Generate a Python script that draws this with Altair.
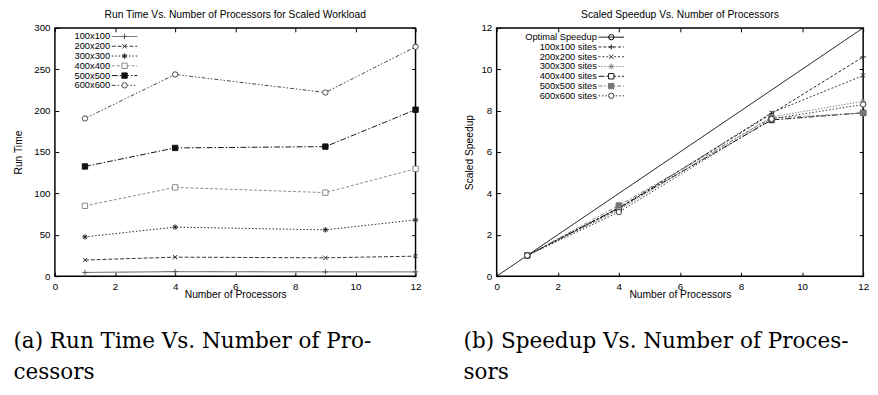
import altair as alt
import pandas as pd

# ---------------- data ----------------
procs = [1, 4, 9, 12]
x_ticks = [0, 2, 4, 6, 8, 10, 12]

rt_names = ["100x100", "200x200", "300x300", "400x400", "500x500", "600x600"]
rt_100 = [4.5, 5.5, 5.2, 5.2]
rt_200 = [19.5, 23.0, 22.2, 24.2]
rt_300 = [47.5, 59.3, 56.0, 68.0]
rt_400 = [85.0, 107.3, 101.0, 129.8]
rt_500 = [132.6, 155.0, 156.6, 201.2]
rt_600 = [190.6, 243.8, 222.0, 277.2]
rt_ticks = [0, 50, 100, 150, 200, 250, 300]

sp_names = ["Optimal Speedup", "100x100 sites", "200x200 sites", "300x300 sites",
            "400x400 sites", "500x500 sites", "600x600 sites"]
opt_x = [0, 12]
opt_y = [0, 12]
sp_100 = [1.0, 3.30, 7.85, 10.60]
sp_200 = [1.0, 3.25, 7.90, 9.70]
sp_300 = [1.0, 3.20, 7.70, 8.45]
sp_400 = [1.0, 3.30, 7.55, 7.90]
sp_500 = [1.0, 3.42, 7.65, 7.88]
sp_600 = [1.0, 3.10, 7.60, 8.30]
sp_ticks = [0, 2, 4, 6, 8, 10, 12]

titles = ["Run Time Vs. Number of Processors for Scaled Workload",
          "Scaled Speedup Vs. Number of Processors"]
captions = [["(a) Run Time Vs. Number of Pro-", "cessors"],
            ["(b) Speedup Vs. Number of Proces-", "sors"]]

# ---------------- styles ----------------
SANS = "Liberation Sans"
SERIF = "DejaVu Serif"
PLUS = "M-1,0H1M0,-1V1"
XMARK = "M-0.8,-0.8L0.8,0.8M-0.8,0.8L0.8,-0.8"
STAR = "M-1,0H1M0,-1V1M-0.75,-0.75L0.75,0.75M-0.75,0.75L0.75,-0.75"
SAMPLE = "M-3.25,0H3.25"
H = 254
NONPOS = ["color", "strokeDash", "shape", "stroke", "fill", "opacity"]


def indep(ch):
    kw = {c: "independent" for c in NONPOS}
    return ch.resolve_scale(**kw).resolve_legend(**kw)


def long_df(names, xs_list, ys_list):
    rows = []
    for n, xs, ys in zip(names, xs_list, ys_list):
        for x, y in zip(xs, ys):
            rows.append({"procs": x, "value": y, "series": n, "key": n + " ",
                         "lab": n + "  "})
    return pd.DataFrame(rows)


def panel(df_lines, df_pts, names, colors, dashes, shapes, fills, ydomain, yticks,
          ytitle, title, width, sym_x, lab_x, leg_y, ytitle_pad):
    keys = [n + " " for n in names]
    labs = [n + "  " for n in names]
    xaxis = alt.Axis(values=x_ticks, title="Number of Processors", titleFont=SANS,
                     titleFontSize=10.5, titleFontWeight="normal", titleColor="black",
                     titlePadding=-2, labelFont=SANS, labelFontSize=10, labelColor="black",
                     labelPadding=6, ticks=False, domain=False, grid=True, gridColor="black",
                     gridWidth=1, gridOpacity=1, gridDash=[4, H - 8, 4, 2000],
                     labelFlush=False, labelOverlap=False)
    yaxis = alt.Axis(values=yticks, title=ytitle, titleFont=SANS, titleFontSize=10.5,
                     titleFontWeight="normal", titleColor="black", titlePadding=ytitle_pad,
                     labelFont=SANS, labelFontSize=10, labelColor="black", labelPadding=5,
                     ticks=False, domain=False, grid=True, gridColor="black", gridWidth=1,
                     gridOpacity=1, gridDash=[4, width - 8, 4, 2000], labelFlush=False,
                     labelOverlap=False)
    rowpad = alt.ExprRef(expr="-1.5")
    sym_common = dict(orient="none", legendX=sym_x, legendY=leg_y, title=None,
                      labelExpr="''", labelFontSize=9.5, rowPadding=rowpad, padding=0,
                      symbolOffset=0, symbolStrokeWidth=1)
    leg_line = alt.Legend(symbolType=SAMPLE, symbolSize=64, **sym_common)
    leg_pt = alt.Legend(symbolSize=30, **sym_common)
    leg_lab = alt.Legend(orient="none", legendX=lab_x, legendY=leg_y, title=None,
                         labelAlign="right", labelFont=SANS, labelFontSize=9.5,
                         labelColor="black", labelExpr="trim(datum.label)", labelLimit=300,
                         symbolSize=0, symbolStrokeWidth=0, symbolOffset=0,
                         rowPadding=rowpad, padding=0)

    xs = alt.Scale(domain=[0, 12], nice=False)
    ys = alt.Scale(domain=ydomain, nice=False)
    lines = alt.Chart(df_lines).mark_line(strokeWidth=1).encode(
        x=alt.X("procs:Q", scale=xs, axis=xaxis),
        y=alt.Y("value:Q", scale=ys, axis=yaxis),
        color=alt.Color("series:N", scale=alt.Scale(domain=names, range=colors), legend=leg_line),
        strokeDash=alt.StrokeDash("series:N", scale=alt.Scale(domain=names, range=dashes),
                                  legend=leg_line),
        opacity=alt.Opacity("lab:N", scale=alt.Scale(domain=labs, range=[1] * len(labs)),
                            legend=leg_lab),
    )
    pts = alt.Chart(df_pts).mark_point(size=30, strokeWidth=1, opacity=1, filled=True).encode(
        x=alt.X("procs:Q", scale=xs, axis=xaxis),
        y=alt.Y("value:Q", scale=ys, axis=yaxis),
        shape=alt.Shape("key:N", scale=alt.Scale(domain=keys, range=shapes), legend=leg_pt),
        stroke=alt.Stroke("key:N", scale=alt.Scale(domain=keys, range=colors), legend=leg_pt),
        fill=alt.Fill("key:N", scale=alt.Scale(domain=keys, range=fills), legend=leg_pt),
    )
    return alt.layer(lines, pts).properties(
        width=width, height=H,
        title=alt.TitleParams(title, font=SANS, fontSize=10.5, fontWeight="normal",
                              color="black", offset=3, anchor="middle", frame="group"),
    )


# left panel
rt_series = [rt_100, rt_200, rt_300, rt_400, rt_500, rt_600]
df_rt = long_df(rt_names, [procs] * 6, rt_series)
left = panel(
    df_rt, df_rt, rt_names,
    colors=["#555555", "#333333", "#222222", "#888888", "#111111", "#444444"],
    dashes=[[1, 0], [4, 2], [1.5, 2], [3, 2], [6, 2, 1.5, 2], [4, 2, 1.5, 2, 1.5, 2]],
    shapes=[PLUS, XMARK, STAR, "square", "square", "circle"],
    fills=["#555555", "#333333", "#222222", "white", "#111111", "white"],
    ydomain=[0, 300], yticks=rt_ticks, ytitle="Run Time", title=titles[0],
    width=369, sym_x=66.5, lab_x=43, leg_y=4.0, ytitle_pad=10,
)

# right panel
sp_series = [sp_100, sp_200, sp_300, sp_400, sp_500, sp_600]
df_sp_lines = long_df(sp_names, [opt_x] + [procs] * 6, [opt_y] + sp_series)
df_sp_pts = long_df(sp_names[1:], [procs] * 6, sp_series)
right = panel(
    df_sp_lines, df_sp_pts, sp_names,
    colors=["#000000", "#222222", "#333333", "#888888", "#111111", "#777777", "#333333"],
    dashes=[[1, 0], [3, 2], [2, 2], [1.5, 1.5], [6, 2, 2, 2], [4, 2, 1.5, 2], [1.5, 2]],
    shapes=["circle", PLUS, XMARK, STAR, "square", "square", "circle"],
    fills=["transparent", "#222222", "#333333", "#888888", "white", "#777777", "white"],
    ydomain=[0, 12], yticks=sp_ticks, ytitle="Scaled Speedup", title=titles[1],
    width=375, sym_x=112.5, lab_x=89, leg_y=4.7, ytitle_pad=7,
)


def captioned(ch, lines, dx):
    return indep(alt.vconcat(ch, title=alt.TitleParams(
        lines, orient="bottom", anchor="start", font=SERIF, fontSize=22,
        fontWeight="normal", color="black", lineHeight=32, offset=31, dx=dx)))


chart = indep(alt.hconcat(captioned(left, captions[0], 0), captioned(right, captions[1], 0),
                          spacing=42)).properties(
    padding={"left": 5, "top": -4, "right": 0, "bottom": 0}, background="white",
).configure_view(stroke="black", strokeWidth=1.5)

chart.save("out.html", embed_options={"renderer": "svg", "actions": False})
